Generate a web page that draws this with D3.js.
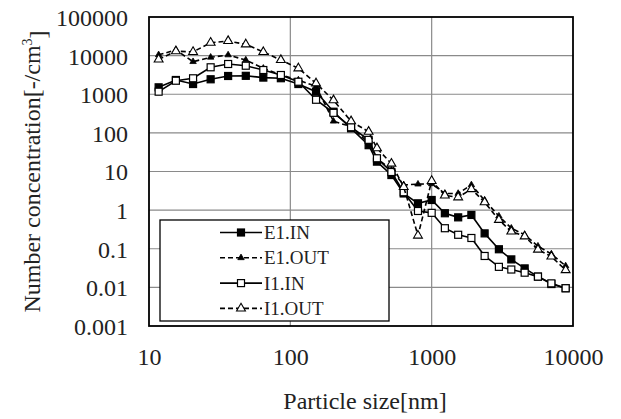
<!DOCTYPE html>
<html>
<head>
<meta charset="utf-8">
<script src="https://cdn.jsdelivr.net/npm/d3@7"></script>
<style>
    html, body { margin: 0; padding: 0; background: #fff; }
    .chart { width: 621px; height: 419px; }
    text { font-family: "Liberation Serif", "Times New Roman", serif; fill: #222; }
</style>
</head>
<body>
<div class="chart"></div>
<script>
(function () {
    'use strict';

    /* data */
    const sizes = [11.7, 15.5, 20.5, 27.3, 36.3, 48.4, 64.4, 85.7, 114, 152, 202, 269, 358, 410, 519, 634, 800,
        1000, 1240, 1540, 1910, 2370, 2990, 3660, 4550, 5650, 7030, 8870];
    const e1In = [1510, 2340, 1840, 2440, 2970, 3000, 2700, 2600, 1840, 1165, 353, 131, 48, 18, 8.1, 2.7, 1.5,
        1.83, 0.83, 0.65, 0.75, 0.25, 0.097, 0.053, 0.031, 0.019, 0.0122, 0.0095];
    const e1Out = [10500, 14000, 6970, 9060, 10400, 7700, 4700, 3150, 2340, 1600, 200, 145, 55, 22, 11, 4.5, 4.7,
        4.8, 2.7, 2.7, 4.5, 1.8, 0.7, 0.34, 0.23, 0.117, 0.073, 0.036];
    const i1In = [1165, 2240, 2590, 4990, 6070, 5480, 4240, 3150, 2110, 720, 330, 140, 66, 22, 9.7, 2.9, 0.95,
        0.85, 0.34, 0.23, 0.19, 0.065, 0.034, 0.029, 0.024, 0.019, 0.0127, 0.0095];
    const i1Out = [8000, 13000, 12500, 21600, 23900, 19600, 12400, 7700, 4700, 1920, 700, 200, 107, 40, 16, 4, 0.22,
        5.7, 2.4, 2.15, 3.5, 1.6, 0.56, 0.28, 0.21, 0.095, 0.063, 0.028];

    const seriesNames = ['E1.IN', 'E1.OUT', 'I1.IN', 'I1.OUT'];
    const xTicks = [10, 100, 1000, 10000];
    const xTickLabels = ['10', '100', '1000', '10000'];
    const yTicks = [0.001, 0.01, 0.1, 1, 10, 100, 1000, 10000, 100000];
    const yTickLabels = ['0.001', '0.01', '0.1', '1', '10', '100', '1000', '10000', '100000'];

    const series = [
        { name: seriesNames[0], values: e1In, dash: null, marker: 'square', fill: '#000' },
        { name: seriesNames[1], values: e1Out, dash: '5,3', marker: 'triangle-small', fill: '#000' },
        { name: seriesNames[2], values: i1In, dash: null, marker: 'square', fill: '#fff' },
        { name: seriesNames[3], values: i1Out, dash: '5,3', marker: 'triangle', fill: '#fff' }
    ];

    /* layout */
    const margin = { top: 17, left: 149, right: 48, bottom: 93 };
    const width = 621 - margin.left - margin.right;
    const height = 419 - margin.top - margin.bottom;

    const svg = d3.select('.chart').append('svg')
        .attr('width', 621)
        .attr('height', 419);

    const plot = svg.append('g')
        .attr('transform', 'translate(' + margin.left + ', ' + margin.top + ')');

    const x = d3.scaleLog().domain([10, 10000]).range([0, width]);
    const y = d3.scaleLog().domain([0.001, 100000]).range([height, 0]);

    /* grid */
    plot.append('g').selectAll('line').data(yTicks.slice(1, -1))
        .enter().append('line')
        .attr('x1', 0).attr('x2', width)
        .attr('y1', function (d) { return y(d); })
        .attr('y2', function (d) { return y(d); })
        .attr('stroke', '#8a8a8a').attr('stroke-width', 1.2);
    plot.append('g').selectAll('line').data(xTicks.slice(1, -1))
        .enter().append('line')
        .attr('y1', 0).attr('y2', height)
        .attr('x1', function (d) { return x(d); })
        .attr('x2', function (d) { return x(d); })
        .attr('stroke', '#8a8a8a').attr('stroke-width', 1.2);

    /* axes (labels only) */
    const xAxis = plot.append('g')
        .attr('transform', 'translate(0, ' + height + ')')
        .call(d3.axisBottom(x).tickValues(xTicks).tickSize(0).tickPadding(22)
            .tickFormat(function (d, i) { return xTickLabels[i]; }));
    const yAxis = plot.append('g')
        .call(d3.axisLeft(y).tickValues(yTicks).tickSize(0).tickPadding(21)
            .tickFormat(function (d, i) { return yTickLabels[i]; }));
    [xAxis, yAxis].forEach(function (a) {
        a.select('.domain').remove();
        a.selectAll('text')
            .style('font-family', '"Liberation Serif", "Times New Roman", serif')
            .style('font-size', '24px')
            .attr('fill', '#222');
    });
    yAxis.selectAll('text').attr('dy', '0.35em');

    /* marker drawing */
    function drawMarker(g, type, fill) {
        if (type === 'square') {
            g.append('rect')
                .attr('x', -3.5).attr('y', -3.5)
                .attr('width', 7).attr('height', 7)
                .attr('fill', fill).attr('stroke', '#000').attr('stroke-width', 1.2);
        } else {
            const big = type === 'triangle';
            g.append('path')
                .attr('d', d3.symbol().type(d3.symbolTriangle).size(big ? 34 : 18)())
                .attr('fill', fill).attr('stroke', '#000').attr('stroke-width', big ? 1.1 : 0.8);
        }
    }

    const line = d3.line()
        .x(function (d) { return x(d[0]); })
        .y(function (d) { return y(d[1]); });

    series.forEach(function (s) {
        const pts = sizes.map(function (v, i) { return [v, s.values[i]]; });
        plot.append('path')
            .datum(pts)
            .attr('d', line)
            .attr('fill', 'none')
            .attr('stroke', '#000')
            .attr('stroke-width', 1.6)
            .attr('stroke-dasharray', s.dash);
        plot.append('g').selectAll('g').data(pts)
            .enter().append('g')
            .attr('transform', function (d) { return 'translate(' + x(d[0]) + ',' + y(d[1]) + ')'; })
            .each(function () { drawMarker(d3.select(this), s.marker, s.fill); });
    });

    /* legend */
    const legend = svg.append('g').attr('class', 'legend');
    legend.append('rect')
        .attr('x', 160).attr('y', 220)
        .attr('width', 229).attr('height', 101)
        .attr('fill', '#fff').attr('stroke', '#000').attr('stroke-width', 1.3);
    const rows = legend.selectAll('.row').data(series)
        .enter().append('g')
        .attr('class', 'row')
        .attr('transform', function (d, i) { return 'translate(0,' + (232.5 + i * 25.3) + ')'; });
    rows.append('line')
        .attr('x1', 220).attr('x2', 262)
        .attr('stroke', '#000').attr('stroke-width', 1.6)
        .attr('stroke-dasharray', function (d) { return d.dash; });
    rows.each(function (d) {
        const m = d3.select(this).append('g').attr('transform', 'translate(241,0)');
        drawMarker(m, d.marker, d.fill);
    });
    rows.append('text')
        .attr('x', 264).attr('dy', '0.35em')
        .style('font-size', '19px')
        .text(function (d) { return d.name; });

    /* frame */
    plot.append('rect')
        .attr('width', width).attr('height', height)
        .attr('fill', 'none').attr('stroke', '#000').attr('stroke-width', 1.8);

    /* titles */
    svg.append('text')
        .attr('x', margin.left + width / 2 + 4).attr('y', 409)
        .attr('text-anchor', 'middle')
        .style('font-size', '24px')
        .text('Particle size[nm]');
    const yTitle = svg.append('text')
        .attr('transform', 'translate(40,' + (margin.top + height / 2) + ') rotate(-90)')
        .attr('text-anchor', 'middle')
        .style('font-size', '24px');
    yTitle.append('tspan').text('Number concentration[-/cm');
    yTitle.append('tspan').attr('dy', '-0.55em').style('font-size', '14px').text('3');
    yTitle.append('tspan').attr('dy', '0.55em').text(']');
}());
</script>
</body>
</html>
